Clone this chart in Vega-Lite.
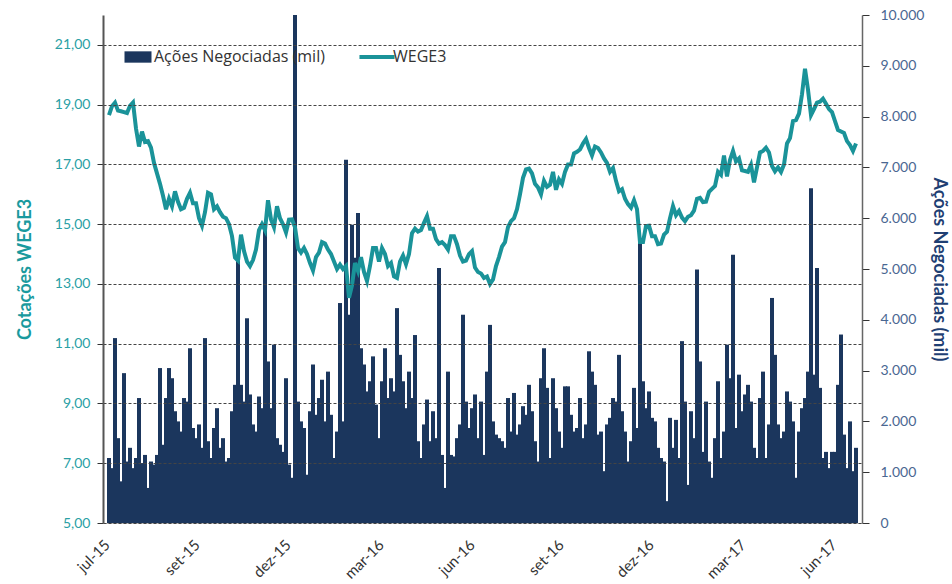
{
  "$schema": "https://vega.github.io/schema/vega-lite/v6.json",
  "autosize": "none",
  "width": 759,
  "height": 508,
  "padding": {"left": 103, "top": 15, "right": 90, "bottom": 61},
  "background": "white",
  "config": {"view": {"stroke": null}, "font": "Lato"},
  "data": {"values": [
    {"data":"2015-06-30","preco":18.65,"volume":1280},
    {"data":"2015-07-03","preco":18.95,"volume":1080},
    {"data":"2015-07-06","preco":19.07,"volume":3640},
    {"data":"2015-07-09","preco":18.8,"volume":1670},
    {"data":"2015-07-12","preco":18.78,"volume":820},
    {"data":"2015-07-15","preco":18.75,"volume":2950},
    {"data":"2015-07-18","preco":18.72,"volume":1210},
    {"data":"2015-07-21","preco":18.96,"volume":1480},
    {"data":"2015-07-24","preco":19.07,"volume":1080},
    {"data":"2015-07-27","preco":18.2,"volume":1280},
    {"data":"2015-07-30","preco":17.6,"volume":2460},
    {"data":"2015-08-02","preco":18.1,"volume":1180},
    {"data":"2015-08-05","preco":17.75,"volume":1340},
    {"data":"2015-08-08","preco":17.78,"volume":690},
    {"data":"2015-08-11","preco":17.56,"volume":1210},
    {"data":"2015-08-14","preco":17.05,"volume":1150},
    {"data":"2015-08-17","preco":16.7,"volume":1340},
    {"data":"2015-08-20","preco":16.35,"volume":3050},
    {"data":"2015-08-23","preco":15.95,"volume":1540},
    {"data":"2015-08-26","preco":15.5,"volume":2460},
    {"data":"2015-08-29","preco":15.85,"volume":3050},
    {"data":"2015-09-01","preco":15.6,"volume":2850},
    {"data":"2015-09-04","preco":16.1,"volume":2200},
    {"data":"2015-09-07","preco":15.75,"volume":2000},
    {"data":"2015-09-10","preco":15.5,"volume":1800},
    {"data":"2015-09-13","preco":15.55,"volume":2460},
    {"data":"2015-09-16","preco":15.85,"volume":2390},
    {"data":"2015-09-19","preco":16.05,"volume":3440},
    {"data":"2015-09-22","preco":15.7,"volume":1870},
    {"data":"2015-09-25","preco":15.7,"volume":1670},
    {"data":"2015-09-28","preco":15.2,"volume":1940},
    {"data":"2015-10-01","preco":14.95,"volume":1480},
    {"data":"2015-10-04","preco":15.4,"volume":3640},
    {"data":"2015-10-07","preco":16.05,"volume":1610},
    {"data":"2015-10-10","preco":16.0,"volume":1280},
    {"data":"2015-10-13","preco":15.5,"volume":1870},
    {"data":"2015-10-16","preco":15.6,"volume":2260},
    {"data":"2015-10-19","preco":15.4,"volume":1480},
    {"data":"2015-10-22","preco":15.25,"volume":1670},
    {"data":"2015-10-25","preco":15.2,"volume":1210},
    {"data":"2015-10-28","preco":15.0,"volume":1280},
    {"data":"2015-10-31","preco":14.6,"volume":2200},
    {"data":"2015-11-03","preco":13.88,"volume":2720},
    {"data":"2015-11-06","preco":13.78,"volume":5180},
    {"data":"2015-11-09","preco":14.65,"volume":2720},
    {"data":"2015-11-12","preco":14.1,"volume":2390},
    {"data":"2015-11-15","preco":13.75,"volume":4030},
    {"data":"2015-11-18","preco":13.6,"volume":2530},
    {"data":"2015-11-21","preco":13.8,"volume":1940},
    {"data":"2015-11-24","preco":14.15,"volume":1800},
    {"data":"2015-11-27","preco":14.8,"volume":2490},
    {"data":"2015-11-30","preco":15.0,"volume":2260},
    {"data":"2015-12-03","preco":14.8,"volume":5880},
    {"data":"2015-12-06","preco":15.8,"volume":3180},
    {"data":"2015-12-09","preco":15.16,"volume":2260},
    {"data":"2015-12-12","preco":14.9,"volume":3510},
    {"data":"2015-12-15","preco":15.6,"volume":1670},
    {"data":"2015-12-18","preco":15.2,"volume":1540},
    {"data":"2015-12-21","preco":15.0,"volume":1400},
    {"data":"2015-12-24","preco":14.72,"volume":2850},
    {"data":"2015-12-27","preco":15.15,"volume":1150},
    {"data":"2015-12-30","preco":15.16,"volume":890},
    {"data":"2016-01-02","preco":14.9,"volume":10000},
    {"data":"2016-01-05","preco":14.2,"volume":2390},
    {"data":"2016-01-08","preco":14.05,"volume":2000},
    {"data":"2016-01-11","preco":14.2,"volume":1870},
    {"data":"2016-01-14","preco":14.0,"volume":950},
    {"data":"2016-01-17","preco":13.7,"volume":2200},
    {"data":"2016-01-20","preco":13.45,"volume":3120},
    {"data":"2016-01-23","preco":13.9,"volume":2130},
    {"data":"2016-01-26","preco":14.05,"volume":2460},
    {"data":"2016-01-29","preco":14.4,"volume":2820},
    {"data":"2016-02-01","preco":14.35,"volume":2000},
    {"data":"2016-02-04","preco":14.15,"volume":2980},
    {"data":"2016-02-07","preco":14.0,"volume":2130},
    {"data":"2016-02-10","preco":13.75,"volume":1280},
    {"data":"2016-02-13","preco":13.5,"volume":1800},
    {"data":"2016-02-16","preco":13.65,"volume":4330},
    {"data":"2016-02-19","preco":13.5,"volume":2000},
    {"data":"2016-02-22","preco":13.6,"volume":7150},
    {"data":"2016-02-25","preco":12.54,"volume":4100},
    {"data":"2016-02-28","preco":12.95,"volume":5870},
    {"data":"2016-03-02","preco":13.7,"volume":5220},
    {"data":"2016-03-05","preco":13.43,"volume":6100},
    {"data":"2016-03-08","preco":13.9,"volume":3440},
    {"data":"2016-03-11","preco":13.4,"volume":3120},
    {"data":"2016-03-14","preco":13.1,"volume":2590},
    {"data":"2016-03-17","preco":13.6,"volume":2790},
    {"data":"2016-03-20","preco":14.2,"volume":3280},
    {"data":"2016-03-23","preco":14.2,"volume":2330},
    {"data":"2016-03-26","preco":13.75,"volume":1670},
    {"data":"2016-03-29","preco":14.2,"volume":2790},
    {"data":"2016-04-01","preco":14.0,"volume":3440},
    {"data":"2016-04-04","preco":13.6,"volume":2460},
    {"data":"2016-04-07","preco":13.7,"volume":2850},
    {"data":"2016-04-10","preco":13.25,"volume":2590},
    {"data":"2016-04-13","preco":13.2,"volume":4230},
    {"data":"2016-04-16","preco":13.75,"volume":3310},
    {"data":"2016-04-19","preco":13.95,"volume":2790},
    {"data":"2016-04-22","preco":13.66,"volume":2260},
    {"data":"2016-04-25","preco":14.0,"volume":2980},
    {"data":"2016-04-28","preco":14.7,"volume":2460},
    {"data":"2016-05-01","preco":14.85,"volume":3700},
    {"data":"2016-05-04","preco":14.75,"volume":1610},
    {"data":"2016-05-07","preco":14.8,"volume":1280},
    {"data":"2016-05-10","preco":15.05,"volume":1940},
    {"data":"2016-05-13","preco":15.27,"volume":2430},
    {"data":"2016-05-16","preco":14.85,"volume":1610},
    {"data":"2016-05-19","preco":14.85,"volume":2200},
    {"data":"2016-05-22","preco":14.5,"volume":1670},
    {"data":"2016-05-25","preco":14.35,"volume":5020},
    {"data":"2016-05-28","preco":14.4,"volume":1340},
    {"data":"2016-05-31","preco":14.3,"volume":690},
    {"data":"2016-06-03","preco":14.15,"volume":2980},
    {"data":"2016-06-06","preco":14.6,"volume":1340},
    {"data":"2016-06-09","preco":14.6,"volume":1310},
    {"data":"2016-06-12","preco":14.33,"volume":1670},
    {"data":"2016-06-15","preco":13.95,"volume":1940},
    {"data":"2016-06-18","preco":13.75,"volume":4100},
    {"data":"2016-06-21","preco":13.78,"volume":2390},
    {"data":"2016-06-24","preco":14.0,"volume":1870},
    {"data":"2016-06-27","preco":14.1,"volume":2260},
    {"data":"2016-06-30","preco":13.55,"volume":2530},
    {"data":"2016-07-03","preco":13.4,"volume":1670},
    {"data":"2016-07-06","preco":13.35,"volume":2390},
    {"data":"2016-07-09","preco":13.2,"volume":1340},
    {"data":"2016-07-12","preco":13.25,"volume":2980},
    {"data":"2016-07-15","preco":13.0,"volume":3900},
    {"data":"2016-07-18","preco":13.15,"volume":2000},
    {"data":"2016-07-21","preco":13.6,"volume":1740},
    {"data":"2016-07-24","preco":13.9,"volume":1670},
    {"data":"2016-07-27","preco":14.25,"volume":1610},
    {"data":"2016-07-30","preco":14.4,"volume":1480},
    {"data":"2016-08-02","preco":14.9,"volume":2460},
    {"data":"2016-08-05","preco":15.1,"volume":1800},
    {"data":"2016-08-08","preco":15.2,"volume":2560},
    {"data":"2016-08-11","preco":15.5,"volume":1740},
    {"data":"2016-08-14","preco":16.0,"volume":1940},
    {"data":"2016-08-17","preco":16.55,"volume":2300},
    {"data":"2016-08-20","preco":16.83,"volume":2130},
    {"data":"2016-08-23","preco":16.86,"volume":2720},
    {"data":"2016-08-26","preco":16.7,"volume":2200},
    {"data":"2016-08-29","preco":16.35,"volume":1610},
    {"data":"2016-09-01","preco":16.23,"volume":1210},
    {"data":"2016-09-04","preco":16.0,"volume":2850},
    {"data":"2016-09-07","preco":16.45,"volume":3440},
    {"data":"2016-09-10","preco":16.25,"volume":2660},
    {"data":"2016-09-13","preco":16.32,"volume":1280},
    {"data":"2016-09-16","preco":16.75,"volume":2850},
    {"data":"2016-09-19","preco":16.15,"volume":2260},
    {"data":"2016-09-22","preco":16.5,"volume":1800},
    {"data":"2016-09-25","preco":16.35,"volume":1480},
    {"data":"2016-09-28","preco":16.75,"volume":2690},
    {"data":"2016-10-01","preco":17.0,"volume":2690},
    {"data":"2016-10-04","preco":17.0,"volume":2130},
    {"data":"2016-10-07","preco":17.37,"volume":1800},
    {"data":"2016-10-10","preco":17.42,"volume":1870},
    {"data":"2016-10-13","preco":17.5,"volume":2460},
    {"data":"2016-10-16","preco":17.7,"volume":1670},
    {"data":"2016-10-19","preco":17.85,"volume":1940},
    {"data":"2016-10-22","preco":17.55,"volume":3380},
    {"data":"2016-10-25","preco":17.3,"volume":2980},
    {"data":"2016-10-28","preco":17.6,"volume":2720},
    {"data":"2016-10-31","preco":17.55,"volume":1740},
    {"data":"2016-11-03","preco":17.4,"volume":1800},
    {"data":"2016-11-06","preco":17.2,"volume":1020},
    {"data":"2016-11-09","preco":17.05,"volume":1940},
    {"data":"2016-11-12","preco":16.75,"volume":2070},
    {"data":"2016-11-15","preco":16.88,"volume":2460},
    {"data":"2016-11-18","preco":16.45,"volume":2390},
    {"data":"2016-11-21","preco":16.1,"volume":3310},
    {"data":"2016-11-24","preco":16.17,"volume":2200},
    {"data":"2016-11-27","preco":15.85,"volume":1800},
    {"data":"2016-11-30","preco":15.67,"volume":1210},
    {"data":"2016-12-03","preco":15.55,"volume":1610},
    {"data":"2016-12-06","preco":15.8,"volume":2660},
    {"data":"2016-12-09","preco":15.5,"volume":1870},
    {"data":"2016-12-12","preco":14.4,"volume":5610},
    {"data":"2016-12-15","preco":14.4,"volume":2790},
    {"data":"2016-12-18","preco":14.94,"volume":2260},
    {"data":"2016-12-21","preco":14.95,"volume":2590},
    {"data":"2016-12-24","preco":14.6,"volume":2070},
    {"data":"2016-12-27","preco":14.6,"volume":2000},
    {"data":"2016-12-30","preco":14.33,"volume":1480},
    {"data":"2017-01-02","preco":14.35,"volume":1280},
    {"data":"2017-01-05","preco":14.65,"volume":1210},
    {"data":"2017-01-08","preco":14.75,"volume":430},
    {"data":"2017-01-11","preco":15.2,"volume":2070},
    {"data":"2017-01-14","preco":15.6,"volume":1480},
    {"data":"2017-01-17","preco":15.3,"volume":2030},
    {"data":"2017-01-20","preco":15.44,"volume":1280},
    {"data":"2017-01-23","preco":15.22,"volume":3580},
    {"data":"2017-01-26","preco":15.1,"volume":2390},
    {"data":"2017-01-29","preco":15.25,"volume":750},
    {"data":"2017-02-01","preco":15.3,"volume":2200},
    {"data":"2017-02-04","preco":15.45,"volume":1670},
    {"data":"2017-02-07","preco":15.85,"volume":4990},
    {"data":"2017-02-10","preco":15.88,"volume":3180},
    {"data":"2017-02-13","preco":15.74,"volume":1400},
    {"data":"2017-02-16","preco":15.75,"volume":2390},
    {"data":"2017-02-19","preco":16.08,"volume":1210},
    {"data":"2017-02-22","preco":16.18,"volume":890},
    {"data":"2017-02-25","preco":16.28,"volume":1670},
    {"data":"2017-02-28","preco":16.75,"volume":2790},
    {"data":"2017-03-03","preco":16.65,"volume":1280},
    {"data":"2017-03-06","preco":17.3,"volume":1800},
    {"data":"2017-03-09","preco":16.6,"volume":3510},
    {"data":"2017-03-12","preco":17.15,"volume":2850},
    {"data":"2017-03-15","preco":17.45,"volume":5280},
    {"data":"2017-03-18","preco":17.1,"volume":1870},
    {"data":"2017-03-21","preco":17.2,"volume":2920},
    {"data":"2017-03-24","preco":16.8,"volume":2200},
    {"data":"2017-03-27","preco":16.78,"volume":2530},
    {"data":"2017-03-30","preco":16.75,"volume":2720},
    {"data":"2017-04-02","preco":16.98,"volume":2390},
    {"data":"2017-04-05","preco":16.4,"volume":1480},
    {"data":"2017-04-08","preco":16.9,"volume":1280},
    {"data":"2017-04-11","preco":17.4,"volume":2460},
    {"data":"2017-04-14","preco":17.45,"volume":2980},
    {"data":"2017-04-17","preco":17.56,"volume":1280},
    {"data":"2017-04-20","preco":17.4,"volume":1940},
    {"data":"2017-04-23","preco":16.95,"volume":4430},
    {"data":"2017-04-26","preco":16.77,"volume":3310},
    {"data":"2017-04-29","preco":16.9,"volume":1940},
    {"data":"2017-05-02","preco":16.75,"volume":1670},
    {"data":"2017-05-05","preco":17.0,"volume":1800},
    {"data":"2017-05-08","preco":17.7,"volume":2590},
    {"data":"2017-05-11","preco":17.88,"volume":2390},
    {"data":"2017-05-14","preco":18.45,"volume":2000},
    {"data":"2017-05-17","preco":18.48,"volume":890},
    {"data":"2017-05-20","preco":18.7,"volume":1800},
    {"data":"2017-05-23","preco":19.35,"volume":2260},
    {"data":"2017-05-26","preco":20.2,"volume":2460},
    {"data":"2017-05-29","preco":19.5,"volume":2980},
    {"data":"2017-06-01","preco":18.65,"volume":6590},
    {"data":"2017-06-04","preco":18.85,"volume":2920},
    {"data":"2017-06-07","preco":19.07,"volume":5020},
    {"data":"2017-06-10","preco":19.1,"volume":2660},
    {"data":"2017-06-13","preco":19.2,"volume":1280},
    {"data":"2017-06-16","preco":19.03,"volume":1400},
    {"data":"2017-06-19","preco":18.85,"volume":1080},
    {"data":"2017-06-22","preco":18.75,"volume":1400},
    {"data":"2017-06-25","preco":18.45,"volume":1400},
    {"data":"2017-06-28","preco":18.15,"volume":2720},
    {"data":"2017-07-01","preco":18.1,"volume":3710},
    {"data":"2017-07-04","preco":18.05,"volume":1740},
    {"data":"2017-07-07","preco":17.78,"volume":1080},
    {"data":"2017-07-10","preco":17.65,"volume":2000},
    {"data":"2017-07-13","preco":17.45,"volume":1020},
    {"data":"2017-07-16","preco":17.7,"volume":1480}
  ]},
  "encoding": {
    "x": {
      "field": "data",
      "type": "temporal",
      "scale": {"domain": [{"year": 2015, "month": 6, "date": 29, "utc": true}, {"year": 2017, "month": 7, "date": 17, "utc": true}]},
      "axis": {
        "title": null,
        "grid": false,
        "ticks": false,
        "domain": true,
        "domainColor": "#bbbbbb",
        "domainWidth": 1,
        "values": [
          {"year": 2015, "month": 7, "date": 1, "utc": true},
          {"year": 2015, "month": 9, "date": 29, "utc": true},
          {"year": 2015, "month": 12, "date": 29, "utc": true},
          {"year": 2016, "month": 3, "date": 31, "utc": true},
          {"year": 2016, "month": 6, "date": 30, "utc": true},
          {"year": 2016, "month": 9, "date": 27, "utc": true},
          {"year": 2016, "month": 12, "date": 26, "utc": true},
          {"year": 2017, "month": 3, "date": 28, "utc": true},
          {"year": 2017, "month": 6, "date": 27, "utc": true}
        ],
        "labelExpr": "['jan','fev','mar','abr','mai','jun','jul','ago','set','out','nov','dez'][utcmonth(datum.value)] + '-' + utcFormat(datum.value, '%y')",
        "labelAngle": -45,
        "labelAlign": "right",
        "labelBaseline": "top",
        "labelPadding": 14,
        "labelOffset": -8,
        "labelFontSize": 15,
        "labelColor": "#333333",
        "labelFont": "Lato"
      }
    }
  },
  "layer": [
    {
      "mark": {"type": "bar", "color": "#1b365d", "width": 4, "clip": true},
      "encoding": {
        "y": {
          "field": "volume",
          "type": "quantitative",
          "scale": {"domain": [0, 10000], "nice": false},
          "axis": {
            "orient": "right",
            "values": [0, 1000, 2000, 3000, 4000, 5000, 6000, 7000, 8000, 9000, 10000],
            "labelExpr": "replace(format(datum.value, ','), ',', '.')",
            "labelColor": "#4a6792",
            "labelFontSize": 14,
            "labelFont": "Lato",
            "labelPadding": 11,
            "title": "Ações Negociadas (mil)",
            "titleColor": "#1f3f73",
            "titleFontSize": 18,
            "titleFontWeight": "bold",
            "titleFont": "Lato",
            "titlePadding": 6,
            "domainColor": "#666666",
            "domainWidth": 1.5,
            "tickColor": "#333333",
            "tickSize": 7,
            "grid": false
          }
        },
        "color": {
          "datum": "Ações Negociadas (mil)",
          "type": "nominal",
          "scale": {"domain": ["Ações Negociadas (mil)", "WEGE3"], "range": ["#1b365d", "#1a9399"]},
          "legend": {
            "orient": "none",
            "legendX": 27,
            "legendY": 34,
            "direction": "horizontal",
            "title": null,
            "padding": 0,
            "labelFont": "Open Sans",
            "labelFontSize": 16,
            "labelColor": "#333333",
            "labelLimit": 0,
            "labelOffset": 8,
            "columnPadding": 26,
            "symbolSize": 729,
            "symbolOpacity": 1,
            "encode": {
              "symbols": {
                "update": {
                  "shape": {"signal": "datum.value == 'WEGE3' ? 'M-1.3,0H1.3' : 'M-1,-0.42H1V0.42H-1Z'"},
                  "fill": {"signal": "datum.value == 'WEGE3' ? 'transparent' : '#1b365d'"},
                  "stroke": {"signal": "datum.value == 'WEGE3' ? '#1a9399' : '#1b365d'"},
                  "strokeWidth": {"signal": "datum.value == 'WEGE3' ? 4 : 0"},
                  "opacity": {"value": 1}
                }
              }
            }
          }
        }
      }
    },
    {
      "mark": {"type": "line", "strokeWidth": 4, "clip": true},
      "encoding": {
        "y": {
          "field": "preco",
          "type": "quantitative",
          "scale": {"domain": [5, 22], "nice": false},
          "axis": {
            "orient": "left",
            "values": [5, 7, 9, 11, 13, 15, 17, 19, 21],
            "labelExpr": "replace(format(datum.value, '.2f'), '.', ',')",
            "labelColor": "#2a9fa5",
            "labelFontSize": 14,
            "labelFont": "Lato",
            "labelPadding": 7,
            "title": "Cotações WEGE3",
            "titleColor": "#1a9a9e",
            "titleFontSize": 18,
            "titleFontWeight": "bold",
            "titleFont": "Lato",
            "titlePadding": 20,
            "domainColor": "#555555",
            "domainWidth": 2,
            "tickColor": "#333333",
            "tickSize": 6,
            "grid": true,
            "gridColor": "#444444",
            "gridDash": [3, 2],
            "gridWidth": 1,
            "zindex": 1
          }
        },
        "color": {"datum": "WEGE3", "type": "nominal"}
      }
    }
  ],
  "resolve": {"scale": {"y": "independent"}}
}
